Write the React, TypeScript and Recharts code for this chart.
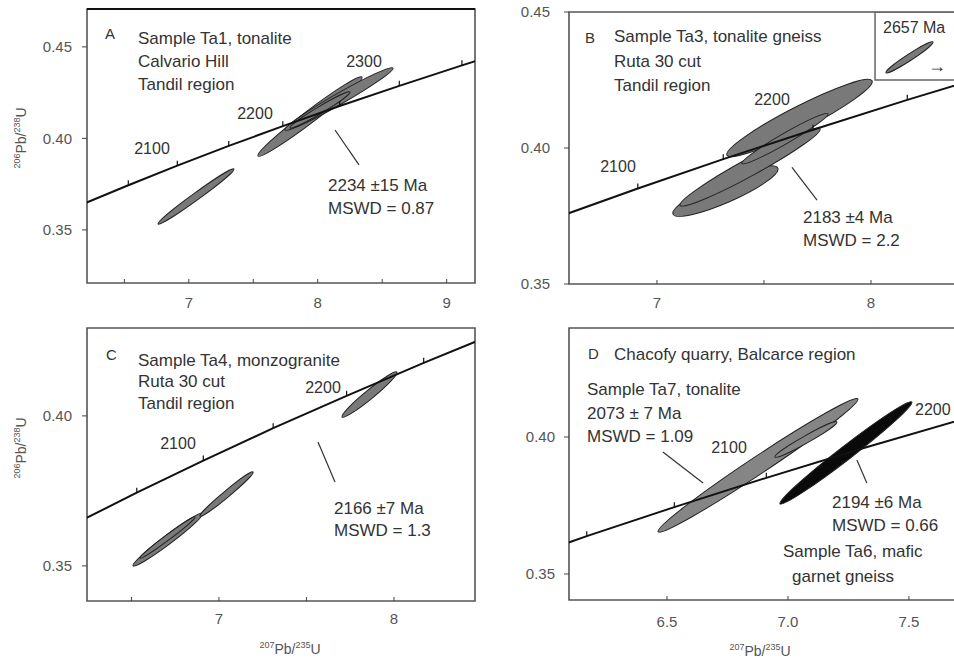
import React from "react";
import { ScatterChart, Scatter, XAxis, YAxis, ReferenceLine, ReferenceArea } from "recharts";

// concordia, one point every 50 Ma
const concordiaAge = [1950, 2000, 2050, 2100, 2150, 2200, 2250, 2300, 2350, 2400];
const concordia207 = [5.8241, 6.1685, 6.5304, 6.9105, 7.3097, 7.7292, 8.1698, 8.6326, 9.1188, 9.6295];
const concordia206 = [0.3532, 0.3638, 0.3744, 0.3851, 0.3959, 0.4067, 0.4177, 0.4287, 0.4399, 0.4511];

// error ellipses: tips (x1,y1) (x2,y2) in 207Pb/235U, 206Pb/238U and half height w
const ta1 = [
  { x1: 6.761, y1: 0.3532, x2: 7.35, y2: 0.3833, w: 0.0024 },
  { x1: 7.537, y1: 0.3904, x2: 8.343, y2: 0.4335, w: 0.0042 },
  { x1: 7.746, y1: 0.4046, x2: 8.584, y2: 0.4385, w: 0.0035 },
  { x1: 7.785, y1: 0.4057, x2: 8.25, y2: 0.4253, w: 0.0022 },
];
const ta3 = [
  { x1: 7.075, y1: 0.3757, x2: 7.565, y2: 0.3926, w: 0.0045 },
  { x1: 7.108, y1: 0.3789, x2: 7.762, y2: 0.4071, w: 0.0036 },
  { x1: 7.327, y1: 0.3973, x2: 8.005, y2: 0.4247, w: 0.0048 },
  { x1: 7.397, y1: 0.3943, x2: 7.799, y2: 0.4126, w: 0.0022 },
];
const ta3Inset = [{ x1: 8.07, y1: 0.4277, x2: 8.29, y2: 0.439, w: 0.0014 }];
const ta4 = [
  { x1: 6.509, y1: 0.35, x2: 6.909, y2: 0.3676, w: 0.0019 },
  { x1: 6.549, y1: 0.3526, x2: 6.863, y2: 0.3663, w: 0.0011 },
  { x1: 6.892, y1: 0.3666, x2: 7.195, y2: 0.3813, w: 0.0014 },
  { x1: 7.703, y1: 0.3996, x2: 8.017, y2: 0.4146, w: 0.0019 },
];
const ta7 = [
  { x1: 6.463, y1: 0.3654, x2: 7.289, y2: 0.4139, w: 0.0038 },
  { x1: 6.946, y1: 0.3927, x2: 7.202, y2: 0.4055, w: 0.0015 },
];
const ta6 = [{ x1: 6.967, y1: 0.3756, x2: 7.512, y2: 0.4128, w: 0.0031 }];

// leader lines from the ellipses to the age labels
const leadersA = [[[8.134, 0.4046], [8.32, 0.3855]]];
const leadersB = [[[7.631, 0.3929], [7.748, 0.3808]]];
const leadersC = [[[7.566, 0.3913], [7.663, 0.378]]];
const leadersD = [
  [[6.483, 0.3945], [6.649, 0.3832]],
  [[7.285, 0.3916], [7.326, 0.3832]],
];

const concordia = concordiaAge.map((age, i) => ({ age, x: concordia207[i], y: concordia206[i] }));

const FONT = '"Liberation Sans", Arial, sans-serif';
const GRAY = "#797979";

const noShape = () => <g />;
const tickMark = (p: any) => (
  <line x1={p.cx} y1={p.cy - 5} x2={p.cx} y2={p.cy} stroke="#111" strokeWidth={1.2} />
);

// draws one ellipse from its two tips and a point on the upper edge
const ellipseLine = (fill: string) => (props: any) => {
  const pts = props.points;
  if (!pts || pts.length < 3) return <g />;
  const [a, b, s] = pts;
  const cx = (a.x + b.x) / 2;
  const cy = (a.y + b.y) / 2;
  const rx = Math.hypot(b.x - a.x, b.y - a.y) / 2;
  const th = Math.atan2(b.y - a.y, b.x - a.x);
  const h = Math.max(Math.abs(s.y - cy), 0.5);
  const sn = Math.sin(th);
  const cs = Math.cos(th);
  const ry = Math.abs(cs) / Math.sqrt(Math.max(1 / (h * h) - (sn * sn) / (rx * rx), 1e-4));
  return (
    <ellipse
      cx={cx}
      cy={cy}
      rx={rx}
      ry={ry}
      transform={`rotate(${(th * 180) / Math.PI} ${cx} ${cy})`}
      fill={fill}
      stroke="#222"
      strokeWidth={1}
    />
  );
};

const ellPoints = (e: any) => [
  { x: e.x1, y: e.y1 },
  { x: e.x2, y: e.y2 },
  { x: (e.x1 + e.x2) / 2, y: (e.y1 + e.y2) / 2 + e.w },
];

type PanelProps = {
  left: number;
  top: number;
  width: number;
  height: number;
  margin: any;
  xDomain: [number, number];
  yDomain: [number, number];
  xTicks: number[];
  yTicks: number[];
  xFmt: (v: number) => string;
  xTickMargin: number;
  yTickMargin: number;
  groups: { items: any[]; fill: string }[];
  leaders: number[][][];
  inset?: [number, number, number, number];
  topWidth?: number;
};

function Panel(p: PanelProps) {
  return (
    <div style={{ position: "absolute", left: p.left, top: p.top }}>
      <ScatterChart width={p.width} height={p.height} margin={p.margin}>
        <XAxis
          type="number"
          dataKey="x"
          domain={p.xDomain}
          allowDataOverflow
          ticks={p.xTicks}
          tickFormatter={p.xFmt}
          tickSize={-4}
          tickMargin={p.xTickMargin}
          axisLine={false}
          height={30}
          stroke="#444"
          tick={{ fontSize: 15, fill: "#555", fontFamily: FONT }}
        />
        <YAxis
          type="number"
          dataKey="y"
          domain={p.yDomain}
          allowDataOverflow
          ticks={p.yTicks}
          tickFormatter={(v: number) => v.toFixed(2)}
          tickSize={5}
          tickMargin={p.yTickMargin}
          axisLine={false}
          width={50}
          stroke="#444"
          tick={{ fontSize: 15, fill: "#555", fontFamily: FONT }}
        />
        <ReferenceArea
          x1={p.xDomain[0]}
          x2={p.xDomain[1]}
          y1={p.yDomain[0]}
          y2={p.yDomain[1]}
          fill="none"
          stroke="#555"
          strokeWidth={1.6}
        />
        {p.topWidth ? (
          <ReferenceLine y={p.yDomain[1]} stroke="#111" strokeWidth={p.topWidth} />
        ) : null}
        {p.inset ? (
          <ReferenceArea
            x1={p.inset[0]}
            x2={p.inset[1]}
            y1={p.inset[2]}
            y2={p.inset[3]}
            ifOverflow="hidden"
            fill="none"
            stroke="#666"
            strokeWidth={1.5}
          />
        ) : null}
        {p.groups.map((g, gi) =>
          g.items.map((e, i) => (
            <Scatter
              key={`e${gi}-${i}`}
              data={ellPoints(e)}
              shape={noShape}
              line={ellipseLine(g.fill)}
              lineType="joint"
              isAnimationActive={false}
            />
          ))
        )}
        {p.leaders.map((l, i) => (
          <ReferenceLine
            key={`l${i}`}
            segment={[
              { x: l[0][0], y: l[0][1] },
              { x: l[1][0], y: l[1][1] },
            ]}
            stroke="#333"
            strokeWidth={1.2}
          />
        ))}
        <Scatter
          data={concordia}
          shape={tickMark}
          line={{ stroke: "#111", strokeWidth: 2 }}
          lineType="joint"
          isAnimationActive={false}
        />
      </ScatterChart>
    </div>
  );
}

const Txt = ({ x, y, size = 17, center = false, children }: any) => (
  <div
    style={{
      position: "absolute",
      left: x,
      top: y,
      transform: center ? "translate(-50%, -50%)" : "translateY(-50%)",
      fontSize: size,
      lineHeight: 1,
      color: "#333",
      whiteSpace: "nowrap",
    }}
  >
    {children}
  </div>
);

const sup = { fontSize: 9, verticalAlign: "6px" };

const YLabel = ({ x, y }: any) => (
  <div
    style={{
      position: "absolute",
      left: x,
      top: y,
      transform: "translate(-50%, -50%) rotate(-90deg)",
      fontSize: 14,
      color: "#555",
      whiteSpace: "nowrap",
    }}
  >
    <span style={sup}>206</span>Pb/<span style={sup}>238</span>U
  </div>
);

const XLabel = ({ x, y }: any) => (
  <div
    style={{
      position: "absolute",
      left: x,
      top: y,
      transform: "translate(-50%, -50%)",
      fontSize: 14,
      color: "#555",
      whiteSpace: "nowrap",
    }}
  >
    <span style={sup}>207</span>Pb/<span style={sup}>235</span>U
  </div>
);

const intOnly = (v: number) => (Number.isInteger(v) ? String(v) : "");

export default function App() {
  return (
    <div
      style={{
        position: "absolute",
        left: 0,
        top: 0,
        width: 954,
        height: 664,
        overflow: "hidden",
        background: "#fff",
        fontFamily: FONT,
      }}
    >
      <Panel
        left={0}
        top={0}
        width={480}
        height={320}
        margin={{ top: 9, right: 5, left: 37, bottom: 7 }}
        xDomain={[6.21, 9.22]}
        yDomain={[0.321, 0.4707]}
        xTicks={[6.5, 7, 7.5, 8, 8.5, 9]}
        yTicks={[0.35, 0.4, 0.45]}
        xFmt={intOnly}
        xTickMargin={18}
        yTickMargin={10}
        groups={[{ items: ta1, fill: GRAY }]}
        leaders={leadersA}
        topWidth={2}
      />
      <Panel
        left={470}
        top={0}
        width={500}
        height={320}
        margin={{ top: 12, right: 10, left: 49, bottom: 6 }}
        xDomain={[6.589, 8.416]}
        yDomain={[0.35, 0.45]}
        xTicks={[7, 7.5, 8]}
        yTicks={[0.35, 0.4, 0.45]}
        xFmt={intOnly}
        xTickMargin={17}
        yTickMargin={14}
        groups={[
          { items: ta3, fill: GRAY },
          { items: ta3Inset, fill: GRAY },
        ]}
        leaders={leadersB}
        inset={[8.019, 8.6, 0.425, 0.45]}
      />
      <Panel
        left={0}
        top={300}
        width={480}
        height={364}
        margin={{ top: 28, right: 5, left: 37, bottom: 33 }}
        xDomain={[6.246, 8.463]}
        yDomain={[0.3383, 0.4293]}
        xTicks={[6.5, 7, 7.5, 8]}
        yTicks={[0.35, 0.4]}
        xFmt={intOnly}
        xTickMargin={16}
        yTickMargin={10}
        groups={[{ items: ta4, fill: GRAY }]}
        leaders={leadersC}
      />
      <Panel
        left={470}
        top={300}
        width={500}
        height={364}
        margin={{ top: 28, right: 10, left: 49, bottom: 34 }}
        xDomain={[6.095, 7.711]}
        yDomain={[0.3405, 0.4398]}
        xTicks={[6.5, 7, 7.5]}
        yTicks={[0.35, 0.4]}
        xFmt={(v: number) => v.toFixed(1)}
        xTickMargin={20}
        yTickMargin={9}
        groups={[
          { items: ta7, fill: "#858585" },
          { items: ta6, fill: "#0a0a0a" },
        ]}
        leaders={leadersD}
      />

      {/* panel A */}
      <Txt x={105} y={33} size={15}>A</Txt>
      <Txt x={138} y={38}>Sample Ta1, tonalite</Txt>
      <Txt x={138} y={61}>Calvario Hill</Txt>
      <Txt x={138} y={84}>Tandil region</Txt>
      <Txt x={364} y={62} size={16} center>2300</Txt>
      <Txt x={255} y={114} size={16} center>2200</Txt>
      <Txt x={152} y={149} size={16} center>2100</Txt>
      <Txt x={328} y={185}>2234 ±15 Ma</Txt>
      <Txt x={328} y={208}>MSWD = 0.87</Txt>
      <YLabel x={20} y={138} />

      {/* panel B */}
      <Txt x={585} y={37} size={15}>B</Txt>
      <Txt x={614} y={36}>Sample Ta3, tonalite gneiss</Txt>
      <Txt x={614} y={61}>Ruta 30 cut</Txt>
      <Txt x={614} y={85}>Tandil region</Txt>
      <Txt x={883} y={28} size={16}>2657 Ma</Txt>
      <Txt x={937} y={66} size={18} center>→</Txt>
      <Txt x={772} y={100} size={16} center>2200</Txt>
      <Txt x={618} y={167} size={16} center>2100</Txt>
      <Txt x={803} y={217}>2183 ±4 Ma</Txt>
      <Txt x={803} y={240}>MSWD = 2.2</Txt>

      {/* panel C */}
      <Txt x={106} y={354} size={15}>C</Txt>
      <Txt x={138} y={360}>Sample Ta4, monzogranite</Txt>
      <Txt x={138} y={381}>Ruta 30 cut</Txt>
      <Txt x={138} y={403}>Tandil region</Txt>
      <Txt x={323} y={388} size={16} center>2200</Txt>
      <Txt x={178} y={444} size={16} center>2100</Txt>
      <Txt x={334} y={508}>2166 ±7 Ma</Txt>
      <Txt x={334} y={530}>MSWD = 1.3</Txt>
      <YLabel x={20} y={448} />
      <XLabel x={290} y={648} />

      {/* panel D */}
      <Txt x={588} y={353} size={15}>D</Txt>
      <Txt x={614} y={354}>Chacofy quarry, Balcarce region</Txt>
      <Txt x={587} y={389}>Sample Ta7, tonalite</Txt>
      <Txt x={587} y={413}>2073 ± 7 Ma</Txt>
      <Txt x={587} y={436}>MSWD = 1.09</Txt>
      <Txt x={729} y={448} size={16} center>2100</Txt>
      <Txt x={915} y={410} size={16}>2200</Txt>
      <Txt x={832} y={502}>2194 ±6 Ma</Txt>
      <Txt x={832} y={525}>MSWD = 0.66</Txt>
      <Txt x={783} y={551}>Sample Ta6, mafic</Txt>
      <Txt x={792} y={576}>garnet gneiss</Txt>
      <XLabel x={760} y={650} />
    </div>
  );
}
